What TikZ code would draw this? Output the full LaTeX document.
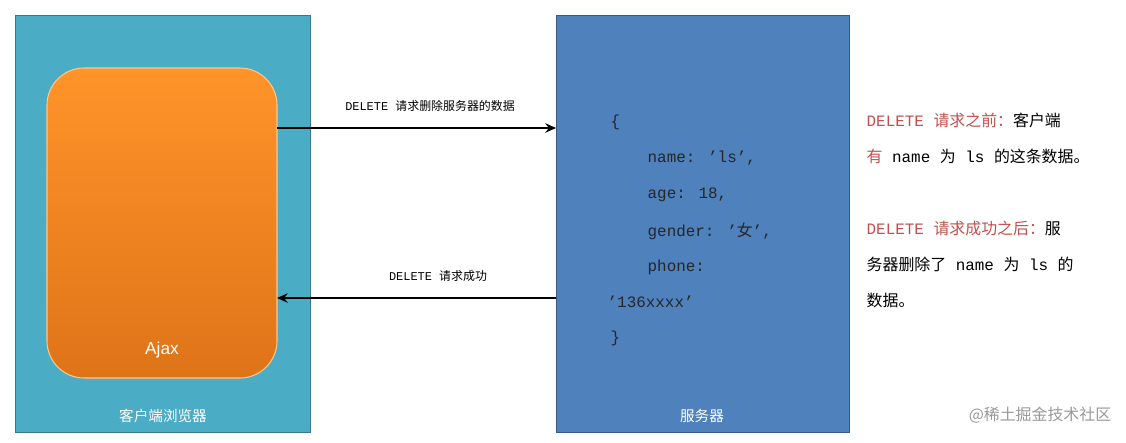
\documentclass[tikz,border=0pt]{standalone}
\usepackage{fontspec}
\setmainfont{Liberation Mono}
\newfontfamily\cjk{Noto Sans CJK SC}
\newfontfamily\sans{Liberation Sans}
\usetikzlibrary{arrows.meta}
\definecolor{cyanbox}{HTML}{4BACC6}
\definecolor{bluebox}{HTML}{4F81BD}
\definecolor{redtxt}{HTML}{C0504D}
\definecolor{orTop}{HTML}{FF942A}
\definecolor{orBot}{HTML}{DE7418}
\begin{document}
\begin{tikzpicture}[x=0.0265cm,y=-0.0265cm,
  panel/.style={draw=#1!70!black,line width=0.8pt},
  conn/.style={-{Stealth[length=8pt,width=7pt]},line width=2pt},
  lbl/.style={font=\fontsize{9}{10}\selectfont,anchor=center},
  code/.style={font=\fontsize{12}{13}\selectfont,anchor=west,text=black!85},
  note/.style={font=\fontsize{12}{13}\selectfont,anchor=west}]
\useasboundingbox (0,0) rectangle (1126,442);
\node[panel=cyanbox,fill=cyanbox,minimum width=295*0.0265cm,minimum height=417*0.0265cm,anchor=north west,inner sep=0] (client) at (15,15) {};
\node[panel=bluebox,fill=bluebox,minimum width=293*0.0265cm,minimum height=417*0.0265cm,anchor=north west,inner sep=0] (server) at (556,15) {};
\shade[top color=orTop, bottom color=orBot, rounded corners=28pt, draw=white!55!orange, line width=0.8pt]
  (47,68) rectangle (277,378);
\node[draw=none,minimum width=230*0.0265cm,minimum height=310*0.0265cm,anchor=north west,inner sep=0] (ajaxbox) at (47,68) {};
\node[text=white,font=\sans\fontsize{13}{14}\selectfont] (ajax) at (162,350) {Ajax};
\node[text=white,font=\cjk\fontsize{11}{12}\selectfont] (ct) at (163,416) {客户端浏览器};
\node[text=white,font=\cjk\fontsize{11}{12}\selectfont] (st) at (702,416) {服务器};
\coordinate (a1) at (277,128); \coordinate (b1) at (556,128);
\coordinate (a2) at (556,298); \coordinate (b2) at (277,298);
\draw[conn] (a1) -- (b1);
\draw[conn] (a2) -- (b2);
\node[lbl] (l1) at (430,106) {DELETE {\cjk 请求删除服务器的数据}};
\node[lbl] (l2) at (438,276) {DELETE {\cjk 请求成功}};
\node[code] (c1) at (606,122) {\{};
\node[code] (c2) at (643,158) {name: 'ls',};
\node[code] (c3) at (643,195) {age: 18,};
\node[code] (c4) at (643,231) {gender: '{\cjk 女}',};
\node[code] (c5) at (643,267) {phone:};
\node[code] (c6) at (603,302) {'136xxxx'};
\node[code] (c7) at (606,338) {\}};
\node[note] (n1) at (862,120) {\textcolor{redtxt}{DELETE {\cjk 请求之前：}}{\cjk 客户端}};
\node[note] (n2) at (862,156) {{\cjk\textcolor{redtxt}{有}} name {\cjk 为} ls {\cjk 的这条数据。}};
\node[note] (n3) at (862,228) {\textcolor{redtxt}{DELETE {\cjk 请求成功之后：}}{\cjk 服}};
\node[note] (n4) at (862,264) {{\cjk 务器删除了} name {\cjk 为} ls {\cjk 的}};
\node[note] (n5) at (862,300) {{\cjk 数据。}};
\node[text=black!40,font=\cjk\fontsize{12}{13}\selectfont] (wm) at (1040,415) {@稀土掘金技术社区};
\end{tikzpicture}
\end{document}
